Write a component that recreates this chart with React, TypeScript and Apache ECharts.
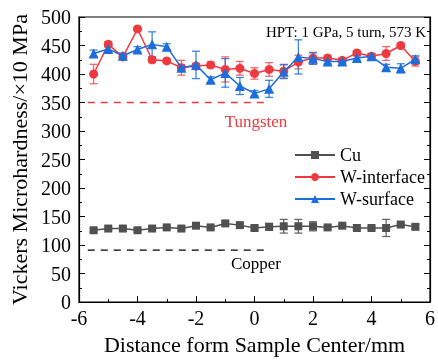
import React, { useEffect, useRef } from "react";
import * as echarts from "echarts";

const xs = [-5.5, -5, -4.5, -4, -3.5, -3, -2.5, -2, -1.5, -1, -0.5, 0, 0.5, 1, 1.5, 2, 2.5, 3, 3.5, 4, 4.5, 5, 5.5];
const cu = [126, 129, 129, 126, 129, 131, 129, 134, 131, 138, 135, 130, 132, 133, 133, 133, 131, 134, 130, 130, 130, 136, 132];
const cuErr = [3, 3, 3, 3, 3, 3, 3, 3, 3, 4, 4, 4, 6, 12, 12, 8, 3, 3, 3, 3, 15, 3, 4];
const wInterface = [400, 452, 430, 479, 425, 423, 411, 414, 416, 408, 410, 401, 408, 405, 421, 428, 428, 424, 437, 431, 436, 450, 422];
const wInterfaceErr = [17, 5, 4, 3, 5, 3, 13, 5, 5, 22, 12, 10, 12, 12, 12, 10, 5, 4, 4, 5, 12, 4, 8];
const wSurface = [436, 444, 432, 443, 452, 448, 411, 416, 390, 402, 379, 366, 374, 404, 430, 427, 422, 422, 428, 431, 412, 410, 426];
const wSurfaceErr = [6, 5, 5, 5, 22, 5, 5, 24, 5, 25, 15, 5, 15, 12, 30, 10, 4, 4, 4, 5, 5, 8, 6];

const refX = [-5.7, 0.5];
const tungstenRef = 350;
const copperRef = 91;
const tungstenLabelPos = [0.05, 317];
const copperLabelPos = [0.05, 67];

const RED = "#ee3a3e";
const BLUE = "#1c6edb";
const GRAY = "#505050";
const FONT = "Liberation Serif";

function errSeries(vals: number[], errs: number[], color: string) {
  return {
    type: "custom",
    silent: true,
    z: 1,
    data: xs.map((x, i) => [x, vals[i], errs[i]]),
    renderItem: (params: any, api: any) => {
      const x = api.value(0);
      const y = api.value(1);
      const e = api.value(2);
      const lo = api.coord([x, y - e]);
      const hi = api.coord([x, y + e]);
      const w = 4;
      const style = { stroke: color, lineWidth: 1.3 };
      return {
        type: "group",
        children: [
          { type: "line", shape: { x1: lo[0], y1: lo[1], x2: hi[0], y2: hi[1] }, style },
          { type: "line", shape: { x1: lo[0] - w, y1: lo[1], x2: lo[0] + w, y2: lo[1] }, style },
          { type: "line", shape: { x1: hi[0] - w, y1: hi[1], x2: hi[0] + w, y2: hi[1] }, style },
        ],
      };
    },
  };
}

export default function App() {
  const ref = useRef<HTMLDivElement>(null);
  useEffect(() => {
    const chart = echarts.init(ref.current!, null, { renderer: "svg" });
    const axisCommon = {
      axisLine: { show: true, onZero: false, lineStyle: { color: "#000", width: 1.2 } },
      axisTick: { show: true, inside: true, length: 6, lineStyle: { color: "#000" } },
      minorTick: { show: true, splitNumber: 2, length: 3, lineStyle: { color: "#000" } },
      splitLine: { show: false },
    };
    chart.setOption({
      animation: false,
      textStyle: { fontFamily: FONT },
      grid: { left: 79, right: 6, top: 17, bottom: 55, show: true, borderColor: "#000", borderWidth: 1.2 },
      xAxis: {
        type: "value",
        min: -6,
        max: 6,
        interval: 2,
        ...axisCommon,
        axisLabel: { fontSize: 20, color: "#000", fontFamily: FONT, margin: 6 },
        name: "Distance form Sample Center/mm",
        nameLocation: "middle",
        nameGap: 28,
        nameTextStyle: { fontSize: 22, color: "#000", fontFamily: FONT },
      },
      yAxis: [
        {
          type: "value",
          min: 0,
          max: 500,
          interval: 50,
          ...axisCommon,
          axisLabel: { fontSize: 20, color: "#000", fontFamily: FONT, margin: 8 },
          name: "Vickers Microhardness/\u00d710 MPa",
          nameLocation: "middle",
          nameGap: 46,
          nameTextStyle: { fontSize: 22, color: "#000", fontFamily: FONT },
        },
        {
          type: "value",
          position: "right",
          min: 0,
          max: 500,
          interval: 50,
          ...axisCommon,
          axisLabel: { show: false },
        },
      ],
      legend: {
        data: ["Cu", "W-interface", "W-surface"],
        orient: "vertical",
        left: 289,
        top: 141,
        itemWidth: 40,
        itemHeight: 10,
        itemGap: 4,
        textStyle: { fontSize: 18, lineHeight: 18, color: "#000", fontFamily: FONT },
      },
      graphic: [
        {
          type: "text",
          right: 12,
          top: 24,
          style: { text: "HPT: 1 GPa, 5 turn, 573 K", font: `15px "${FONT}"`, fill: "#000" },
        },
      ],
      series: [
        {
          type: "line",
          silent: true,
          symbol: "none",
          data: refX.map((x) => [x, tungstenRef]),
          lineStyle: { color: RED, type: [7, 6], width: 1.5 },
          z: 1,
        },
        {
          type: "line",
          silent: true,
          symbol: "none",
          data: refX.map((x) => [x, copperRef]),
          lineStyle: { color: "#000", type: [7, 6], width: 1.3 },
          z: 1,
        },
        {
          type: "scatter",
          silent: true,
          symbolSize: 0,
          itemStyle: { opacity: 1 },
          data: [tungstenLabelPos],
          label: { show: true, position: "inside", formatter: "Tungsten", fontSize: 17, color: RED, fontFamily: FONT, opacity: 1 },
        },
        {
          type: "scatter",
          silent: true,
          symbolSize: 0,
          itemStyle: { opacity: 1 },
          data: [copperLabelPos],
          label: { show: true, position: "inside", formatter: "Copper", fontSize: 17, color: "#000", fontFamily: FONT, opacity: 1 },
        },
        errSeries(cu, cuErr, "rgba(80,80,80,0.85)"),
        errSeries(wInterface, wInterfaceErr, "rgba(238,58,62,0.75)"),
        errSeries(wSurface, wSurfaceErr, "rgba(28,110,219,0.85)"),
        {
          name: "Cu",
          type: "line",
          data: xs.map((x, i) => [x, cu[i]]),
          symbol: "rect",
          symbolSize: 8,
          itemStyle: { color: GRAY },
          lineStyle: { color: GRAY, width: 1.5 },
          z: 3,
        },
        {
          name: "W-interface",
          type: "line",
          data: xs.map((x, i) => [x, wInterface[i]]),
          symbol: "circle",
          symbolSize: 9,
          itemStyle: { color: RED },
          lineStyle: { color: RED, width: 1.5 },
          z: 3,
        },
        {
          name: "W-surface",
          type: "line",
          data: xs.map((x, i) => [x, wSurface[i]]),
          symbol: "triangle",
          symbolSize: 10,
          itemStyle: { color: BLUE },
          lineStyle: { color: BLUE, width: 1.5 },
          z: 4,
        },
      ],
    });
    return () => chart.dispose();
  }, []);
  return <div ref={ref} style={{ position: "fixed", left: 0, top: 0, width: 438, height: 360 }} />;
}
